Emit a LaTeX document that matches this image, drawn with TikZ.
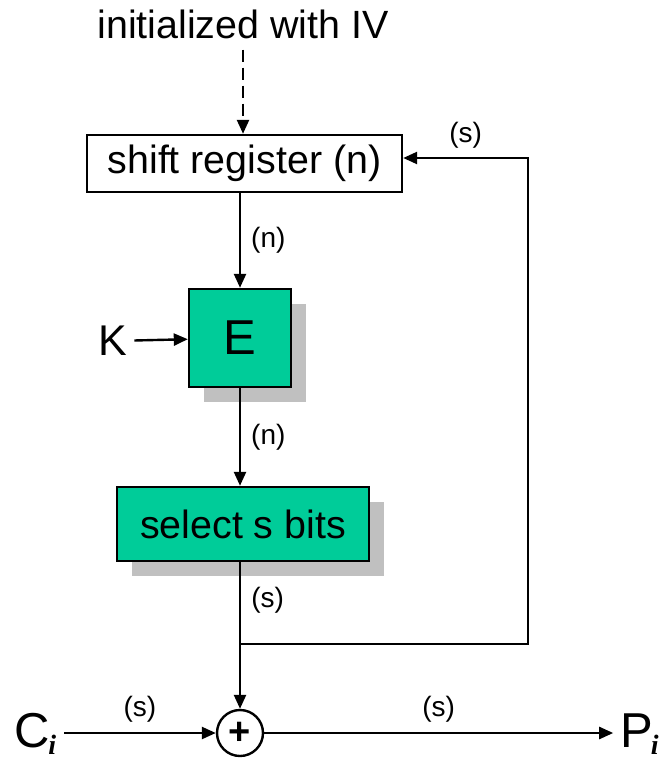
\documentclass[tikz,border=0pt]{standalone}
\usepackage{fontspec}
\setmainfont{Liberation Sans}
\newfontfamily\idxfont{Liberation Serif}
\usetikzlibrary{arrows.meta}
\usetikzlibrary{math, shadows}
\definecolor{mygreen}{RGB}{0, 204, 153}
\definecolor{myshade}{RGB}{192, 192, 192}

\tikzset{
  bigtext/.style={font=\fontsize{19.7}{22}\selectfont},
  block/.style={draw, line width=1.2, fill=mygreen, inner sep=0, bigtext,
    drop shadow={shadow xshift=7.5pt, shadow yshift=-7.5pt, fill=myshade, opacity=1}},
  lbl/.style={font=\fontsize{14}{15}\selectfont, inner sep=0},
  arr/.style={-{Triangle[length=7pt,width=6pt]}, line width=1.2},
}

\begin{document}
\begin{tikzpicture}[x=0.5pt, y=-0.5pt]
\tikzmath{
\xc=241;
\yx=733;
\xr=528;
\yj=644;
\yf=158;
}
\useasboundingbox (0,0) rectangle (671,758);

\node[bigtext] (iv) at (243,24) {initialized with IV};
\node[draw, line width=1.2, fill=white, inner sep=0, minimum width=157.5pt, minimum height=28.5pt, bigtext] (sr) at (244.5,163.5) {shift register (n)};
\node[block, minimum width=51pt, minimum height=49pt, font=\fontsize{24.5}{26}\selectfont] (E) at (240,338) {E};
\node[block, minimum width=126pt, minimum height=37pt] (sel) at (243,524) {select s bits};
\node[draw, circle, line width=1.2, minimum size=23pt, inner sep=0, font=\bfseries\fontsize{19}{19}\selectfont] (xor) at (240,\yx) {+};

\node[font=\fontsize{21.5}{22}\selectfont] (K) at (113,341) {K};
\node[anchor=base, font=\fontsize{24.5}{26}\selectfont] (ci) at (36,747) {C\textsubscript{\kern-1pt{\idxfont\bfseries\itshape\fontsize{14}{14}\selectfont i}}};
\node[anchor=base, font=\fontsize{24.5}{26}\selectfont] (pi) at (640,747) {P\textsubscript{\kern-1pt{\idxfont\bfseries\itshape\fontsize{14}{14}\selectfont i}}};

\coordinate (j) at (\xc,\yj);
\coordinate (fb) at (\xr,\yf);

\draw[arr, dash pattern=on 6pt off 3pt] (iv.south -| 243,0) ++(0,4) -- (sr.north -| 243,0);
\draw[arr] (sr.south -| E.north) -- (E.north) node[lbl, midway, right=5pt]{(n)};
\draw[arr] (K) -- (E);
\draw[arr] (E.south) -- (sel.north -| E.south) node[lbl, midway, right=5pt]{(n)};
\draw[arr] (sel.south -| xor.north) -- (xor.north);
\node[lbl, right=5pt] (s1) at (\xc,600) {(s)};
\draw[arr] (j) -| (fb) -- (sr.east |- fb) node[lbl, midway, above=4pt]{(s)};

\draw[arr] (ci.east |- xor) -- (xor.west) node[lbl, midway, above=5pt]{(s)};
\draw[arr] (xor.east) -- (pi.west |- xor) node[lbl, midway, above=5pt]{(s)};
\end{tikzpicture}
\end{document}
